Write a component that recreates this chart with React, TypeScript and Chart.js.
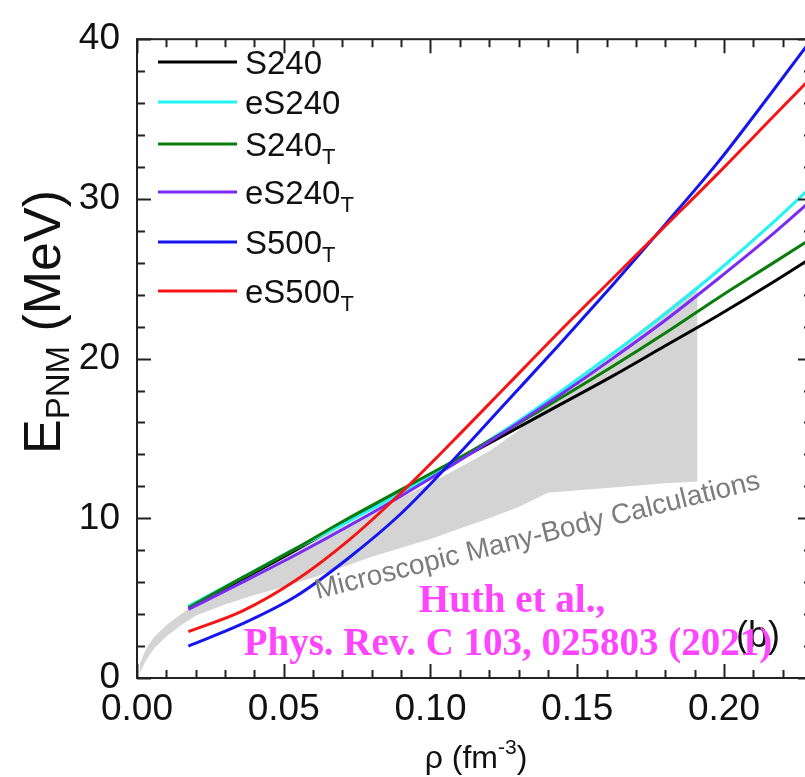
import React, { useEffect, useRef } from 'react';
import { Chart, registerables } from 'chart.js';

Chart.register(...registerables);

// ---- data ----
const rhoGrid = [0.0175, 0.036, 0.054, 0.072, 0.09, 0.108, 0.126, 0.144, 0.162, 0.18, 0.198, 0.216, 0.234];
const S240 = [4.4, 6.2, 8.0, 9.9, 11.7, 13.5, 15.3, 17.1, 18.9, 20.8, 22.7, 24.7, 26.8];
const eS240 = [4.5, 6.3, 8.1, 9.8, 11.6, 13.5, 15.6, 17.9, 20.3, 22.8, 25.5, 28.4, 31.5];
const S240T = [4.4, 6.3, 8.1, 10.0, 11.8, 13.6, 15.5, 17.5, 19.5, 21.6, 23.8, 25.9, 28.0];
const eS240T = [4.3, 6.0, 7.7, 9.5, 11.4, 13.4, 15.5, 17.7, 20.0, 22.4, 25.0, 27.7, 30.6];
const S500T = [2.0, 3.4, 5.1, 7.5, 10.3, 13.7, 17.3, 20.9, 24.6, 28.4, 32.3, 36.6, 41.0];
const eS500T = [2.9, 4.2, 6.1, 8.6, 11.6, 14.9, 18.3, 21.7, 25.0, 28.3, 31.6, 35.0, 38.4];

const bandRho = [0.001, 0.003, 0.006, 0.01, 0.015, 0.02, 0.03, 0.04, 0.05, 0.06, 0.08, 0.1, 0.12, 0.13, 0.14, 0.16, 0.18, 0.191];
const bandLow = [0.3, 1.1, 1.9, 2.6, 3.3, 3.9, 4.6, 5.2, 5.7, 6.3, 7.6, 8.7, 10.0, 10.7, 11.6, 11.9, 12.2, 12.3];
const bandHigh = [0.9, 1.8, 2.6, 3.3, 4.0, 4.6, 5.7, 6.7, 7.7, 8.6, 10.4, 12.2, 14.2, 15.5, 17.2, 20.1, 23.0, 24.6];

const seriesLabels = ['S240', 'eS240', 'S240_T', 'eS240_T', 'S500_T', 'eS500_T'];
const seriesColors = ['#000000', '#22f4f4', '#0a7d0a', '#7a2cf5', '#1515f0', '#f51515'];
const seriesValues = [S240, eS240, S240T, eS240T, S500T, eS500T];

const xTicks = [0, 0.05, 0.1, 0.15, 0.2];
const yTicks = [0, 10, 20, 30, 40];

const bandLabel = 'Microscopic Many-Body Calculations';
const citeLines = ['Huth et al.,', 'Phys. Rev. C 103, 025803 (2021)'];
const panelLabel = '(b)';

const SANS = '"Liberation Sans", Arial, sans-serif';
const SERIF = '"Liberation Serif", "Times New Roman", serif';

function pts(xs: number[], ys: number[]) {
  return xs.map((x, i) => ({ x, y: ys[i] }));
}

type Part = { t: string; size: number; dy: number };
function partsWidth(ctx: CanvasRenderingContext2D, parts: Part[]) {
  let w = 0;
  for (const p of parts) {
    ctx.font = `${p.size}px ${SANS}`;
    w += ctx.measureText(p.t).width;
  }
  return w;
}
function drawParts(ctx: CanvasRenderingContext2D, parts: Part[], x: number, y: number) {
  let cx = x;
  for (const p of parts) {
    ctx.font = `${p.size}px ${SANS}`;
    ctx.fillText(p.t, cx, y + p.dy);
    cx += ctx.measureText(p.t).width;
  }
}

const framePlugin = {
  id: 'frame',
  afterDatasetsDraw(chart: any) {
    const { ctx, chartArea: a, scales } = chart;
    const xs = scales.x;
    const ys = scales.y;
    ctx.save();
    // band label
    ctx.fillStyle = '#7c7c7c';
    ctx.font = `28px ${SANS}`;
    ctx.textAlign = 'left';
    ctx.textBaseline = 'alphabetic';
    ctx.save();
    ctx.translate(xs.getPixelForValue(0.0615), ys.getPixelForValue(4.95));
    ctx.rotate(-14 * Math.PI / 180);
    ctx.fillText(bandLabel, 0, 0);
    ctx.restore();

    // frame with inward ticks
    ctx.strokeStyle = '#222';
    ctx.lineWidth = 2;
    ctx.strokeRect(a.left, a.top, a.right - a.left, a.bottom - a.top);
    ctx.beginPath();
    for (let k = 0; k <= 23; k++) {
      const v = k / 100;
      const px = Math.round(xs.getPixelForValue(v)) + 0.5;
      const len = k % 5 === 0 ? 14 : 8;
      ctx.moveTo(px, a.bottom);
      ctx.lineTo(px, a.bottom - len);
      ctx.moveTo(px, a.top);
      ctx.lineTo(px, a.top + len);
    }
    for (let k = 0; k <= 20; k++) {
      const v = k * 2;
      const py = Math.round(ys.getPixelForValue(v)) + 0.5;
      const len = v % 10 === 0 ? 14 : 8;
      ctx.moveTo(a.left, py);
      ctx.lineTo(a.left + len, py);
      ctx.moveTo(a.right, py);
      ctx.lineTo(a.right - len, py);
    }
    ctx.stroke();

    // legend
    const rowsY = [62, 102, 144, 192, 242, 291];
    seriesLabels.forEach((lab, i) => {
      const y = rowsY[i];
      ctx.strokeStyle = seriesColors[i];
      ctx.lineWidth = 3;
      ctx.beginPath();
      ctx.moveTo(158, y);
      ctx.lineTo(237, y);
      ctx.stroke();
      const [main, sub] = lab.split('_');
      ctx.fillStyle = '#111';
      ctx.textBaseline = 'alphabetic';
      ctx.textAlign = 'left';
      const parts: Part[] = [{ t: main, size: 33, dy: 0 }];
      if (sub) parts.push({ t: sub, size: 22, dy: 8 });
      drawParts(ctx, parts, 245, y + 12);
    });

    // axis titles
    ctx.fillStyle = '#111';
    const xt: Part[] = [
      { t: 'ρ (fm', size: 32, dy: 0 },
      { t: '-3', size: 21, dy: -14 },
      { t: ')', size: 32, dy: 0 },
    ];
    const xw = partsWidth(ctx, xt);
    drawParts(ctx, xt, (a.left + 805) / 2 - xw / 2 + 5, 768);

    const yt: Part[] = [
      { t: 'E', size: 52, dy: 0 },
      { t: 'PNM', size: 33, dy: 9 },
      { t: ' (MeV)', size: 52, dy: 0 },
    ];
    const yw = partsWidth(ctx, yt);
    ctx.save();
    ctx.translate(41, 322);
    ctx.rotate(-Math.PI / 2);
    drawParts(ctx, yt, -yw / 2, 19);
    ctx.restore();

    // panel label
    ctx.font = `36px ${SANS}`;
    ctx.fillStyle = '#111';
    ctx.fillText(panelLabel, 736, 647);

    // citation
    ctx.fillStyle = '#ff45ff';
    ctx.font = `bold 39px ${SERIF}`;
    ctx.textAlign = 'center';
    ctx.fillText(citeLines[0], 512, 612);
    ctx.fillText(citeLines[1], 508, 655);
    ctx.restore();
  },
};

export default function App() {
  const ref = useRef<HTMLCanvasElement>(null);
  useEffect(() => {
    document.body.style.margin = '0';
    const canvas = ref.current!;
    const datasets: any[] = [
      {
        label: 'bandLow',
        data: pts(bandRho, bandLow),
        borderColor: 'rgba(0,0,0,0)',
        borderWidth: 0,
        pointRadius: 0,
        fill: false,
        order: 50,
      },
      {
        label: 'bandHigh',
        data: pts(bandRho, bandHigh),
        borderColor: 'rgba(0,0,0,0)',
        backgroundColor: '#d4d4d4',
        borderWidth: 0,
        pointRadius: 0,
        fill: 0,
        order: 49,
      },
    ];
    seriesLabels.forEach((lab, i) => {
      datasets.push({
        label: lab,
        data: pts(rhoGrid, seriesValues[i]),
        borderColor: seriesColors[i],
        borderWidth: 3,
        pointRadius: 0,
        fill: false,
        cubicInterpolationMode: 'monotone',
        order: 20 - i,
      });
    });
    const chart = new Chart(canvas, {
      type: 'line',
      data: { datasets },
      plugins: [framePlugin],
      options: {
        animation: false,
        responsive: false,
        devicePixelRatio: 1,
        layout: { padding: { top: 24, right: 3, left: 0, bottom: 0 } },
        plugins: { legend: { display: false }, tooltip: { enabled: false } },
        scales: {
          x: {
            type: 'linear',
            min: 0,
            max: 0.23,
            afterFit: (s: any) => { s.height = 99; },
            afterBuildTicks: (s: any) => { s.ticks = xTicks.map((v) => ({ value: v })); },
            grid: { display: false, drawTicks: false },
            border: { display: false },
            ticks: {
              padding: 10,
              color: '#111',
              font: { family: SANS, size: 37 },
              callback: (v: any) => Number(v).toFixed(2),
            },
          },
          y: {
            type: 'linear',
            min: 0,
            max: 40,
            afterFit: (s: any) => { s.width = 137; },
            afterBuildTicks: (s: any) => { s.ticks = yTicks.map((v) => ({ value: v })); },
            grid: { display: false, drawTicks: false },
            border: { display: false },
            ticks: {
              padding: 17,
              color: '#111',
              font: { family: SANS, size: 37 },
              callback: (v: any) => String(v),
            },
          },
        },
      },
    });
    return () => chart.destroy();
  }, []);
  return (
    <div style={{ width: 805, height: 777, overflow: 'hidden', position: 'relative', background: '#fff' }}>
      <canvas ref={ref} width={815} height={777} style={{ display: 'block', width: 815, height: 777 }} />
    </div>
  );
}
